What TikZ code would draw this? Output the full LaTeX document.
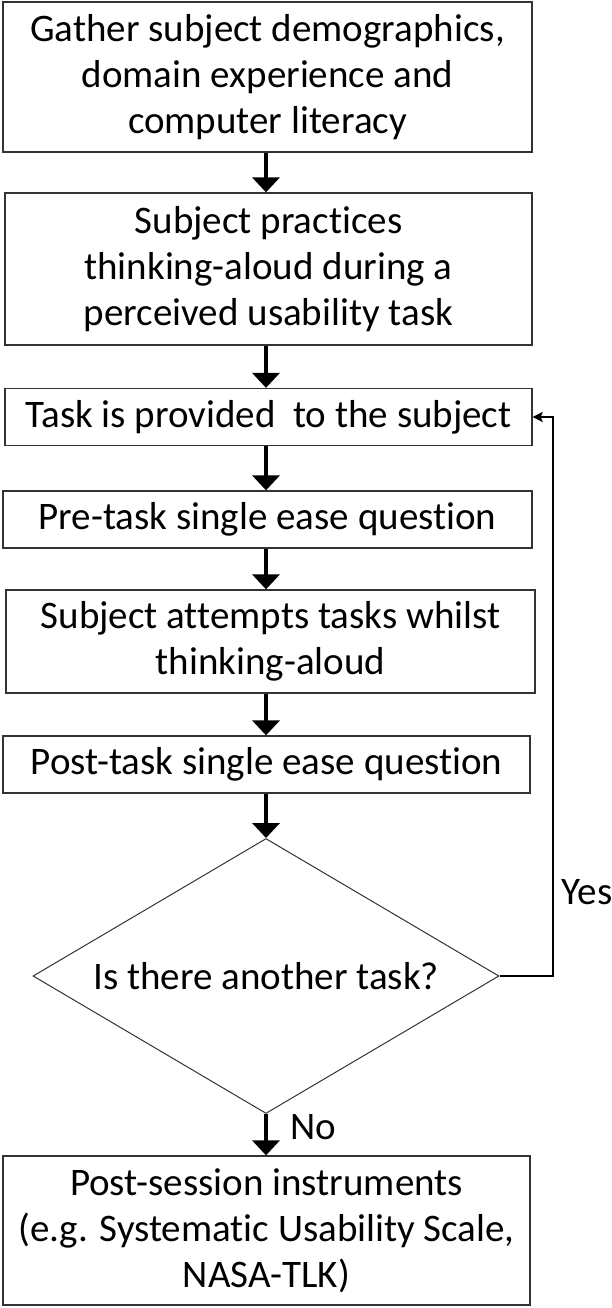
\documentclass[tikz,border=0pt]{standalone}
\usepackage{fontspec}
\setmainfont{Carlito}[Ligatures=NoCommon]
\usetikzlibrary{shapes.geometric,arrows.meta}
\begin{document}
\begin{tikzpicture}[x=1pt,y=-1pt,
  box/.style={draw=black!80, line width=1.3pt, align=center, inner sep=0pt,
    font=\fontsize{39}{46}\selectfont},
  decision/.style={diamond, aspect=1.7, draw=black!80, line width=1pt, inner sep=0pt,
    font=\fontsize{39}{46}\selectfont},
  flow/.style={line width=4pt, -{Triangle[length=15pt,width=27pt]}},
  loopline/.style={line width=2pt, -{Stealth[length=10pt,width=10pt,inset=2pt]}},
  lbl/.style={inner sep=0pt, font=\fontsize{39}{46}\selectfont}
]
\useasboundingbox (0,0) rectangle (611,1308);

\node[box, minimum width=529pt, minimum height=150pt] (b1) at (267.5,77)
  {Gather subject demographics,\\domain experience and\\computer literacy};
\node[box, minimum width=527pt, minimum height=152pt] (b2) at (268.5,269)
  {Subject practices\\thinking-aloud during a\\perceived usability task};
\node[box, minimum width=527pt, minimum height=57pt] (b3) at (268.5,417)
  {Task is provided\ \ to the subject};
\node[box, minimum width=529pt, minimum height=57pt] (b4) at (267.5,519.5)
  {Pre-task single ease question};
\node[box, minimum width=529pt, minimum height=103pt] (b5) at (270.5,641.5)
  {Subject attempts tasks whilst\\thinking-aloud};
\node[box, minimum width=527pt, minimum height=57pt] (b6) at (266.5,764.5)
  {Post-task single ease question};
\node[decision, minimum width=466pt, minimum height=275pt] (d) at (266,976)
  {Is there another task?};
\node[box, minimum width=527pt, minimum height=149pt] (b7) at (266.5,1230.5)
  {Post-session instruments\\(e.g. Systematic Usability Scale,\\NASA-TLK)};

\draw[flow] (b1.south -| d.center) -- (b2.north -| d.center);
\draw[flow] (b2.south -| d.center) -- (b3.north -| d.center);
\draw[flow] (b3.south -| d.center) -- (b4.north -| d.center);
\draw[flow] (b4.south -| d.center) -- (b5.north -| d.center);
\draw[flow] (b5.south -| d.center) -- (b6.north -| d.center);
\draw[flow] (b6.south -| d.center) -- (d.north);
\draw[flow] (d.south) -- (b7.north -| d.center);

\coordinate (loop) at (553,976);
\draw[loopline] (d.east) -- (loop) |- (b3.east);

\node[lbl] (yes) at (587,892) {Yes};
\node[lbl] (no) at (313,1127) {No};
\end{tikzpicture}
\end{document}
